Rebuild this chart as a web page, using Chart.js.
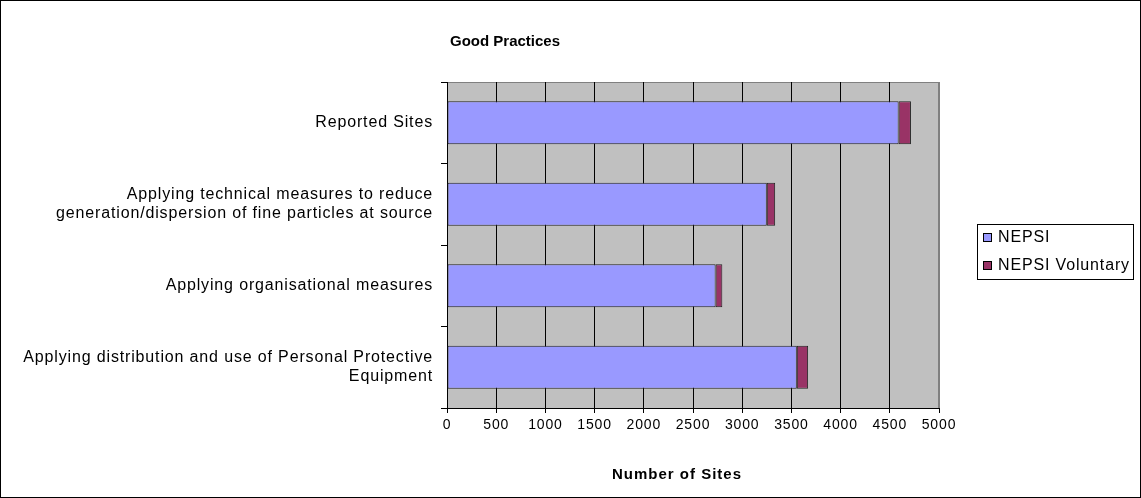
<!DOCTYPE html>
<html>
<head>
<meta charset="utf-8">
<script src="https://cdn.jsdelivr.net/npm/chart.js@4.4.0/dist/chart.umd.min.js"></script>
<style>
  html, body { margin: 0; padding: 0; background: #fff; }
  #wrap { width: 1141px; height: 498px; position: relative; }
</style>
</head>
<body>
<div id="wrap"><canvas id="practicesChart" width="1141" height="498"></canvas></div>
<script>
/* #region  DATA */
const categories = [
  "Reported Sites",
  ["Applying technical measures to reduce", "generation/dispersion of fine particles at source"],
  "Applying organisational measures",
  ["Applying distribution and use of Personal Protective", "Equipment"],
];
const nepsiValues = [4590, 3250, 2730, 3555];
const voluntaryValues = [125, 85, 68, 115];
const xTicks = [0, 500, 1000, 1500, 2000, 2500, 3000, 3500, 4000, 4500, 5000];
/* #endregion */

const FONT = "'Liberation Sans', Arial, sans-serif";
Chart.defaults.font.family = FONT;
Chart.defaults.font.size = 16;
Chart.defaults.color = "#000";

// excel-ish wide text spacing
const spacing = {
  id: "spacing",
  beforeUpdate(chart) { chart.ctx.letterSpacing = "0.85px"; },
  beforeDraw(chart) { chart.ctx.letterSpacing = "0.85px"; },
};

// grey plot background, outer frame, titles and boxed legend
const excelLook = {
  id: "excelLook",
  beforeDraw(chart) {
    const { ctx, chartArea: a } = chart;
    ctx.save();
    ctx.fillStyle = "#fff";
    ctx.fillRect(0, 0, chart.width, chart.height);
    ctx.fillStyle = "#c0c0c0";
    ctx.fillRect(a.left, a.top, a.right - a.left, a.bottom - a.top);
    ctx.strokeStyle = "#808080";
    ctx.lineWidth = 1;
    ctx.strokeRect(a.left + 0.5, a.top + 0.5, a.right - a.left - 1, a.bottom - a.top);
    ctx.restore();
  },
  afterDraw(chart) {
    const ctx = chart.ctx;
    ctx.save();
    ctx.strokeStyle = "#000";
    ctx.lineWidth = 1;
    ctx.strokeRect(0.5, 0.5, chart.width - 1, chart.height - 1);

    ctx.fillStyle = "#000";
    ctx.textAlign = "center";
    ctx.textBaseline = "middle";
    ctx.letterSpacing = "0px";
    ctx.font = "bold 15px " + FONT;
    ctx.fillText("Good Practices", 505, 42);

    ctx.letterSpacing = "1px";
    ctx.font = "bold 15px " + FONT;
    ctx.fillText("Number of Sites", 677, 475);

    // legend
    const lx = 977, ly = 224, lw = 156, lh = 55;
    ctx.fillStyle = "#fff";
    ctx.fillRect(lx, ly, lw, lh);
    ctx.strokeRect(lx + 0.5, ly + 0.5, lw, lh);
    ctx.font = "16px " + FONT;
    ctx.letterSpacing = "0.85px";
    ctx.textAlign = "left";
    chart.data.datasets.forEach((ds, i) => {
      const y = 237 + i * 28;
      ctx.fillStyle = ds.backgroundColor;
      ctx.fillRect(983, y - 4, 9, 9);
      ctx.strokeStyle = "#000";
      ctx.strokeRect(983.5, y - 3.5, 8, 8);
      ctx.fillStyle = "#000";
      ctx.fillText(ds.label, 998, y + 1);
    });
    ctx.restore();
  },
};

const practicesChart = new Chart(document.getElementById("practicesChart"), {
  type: "bar",
  data: {
    labels: categories,
    datasets: [
      {
        label: "NEPSI",
        data: nepsiValues,
        backgroundColor: "#9999ff",
        borderColor: "#222",
        borderWidth: 1,
        borderSkipped: false,
        categoryPercentage: 1,
        barPercentage: 0.53,
      },
      {
        label: "NEPSI Voluntary",
        data: voluntaryValues,
        backgroundColor: "#993366",
        borderColor: "#222",
        borderWidth: 1,
        borderSkipped: false,
        categoryPercentage: 1,
        barPercentage: 0.53,
      },
    ],
  },
  options: {
    indexAxis: "y",
    responsive: false,
    animation: false,
    layout: { padding: { top: 82, right: 202, left: 0, bottom: 0 } },
    plugins: {
      legend: { display: false },
      tooltip: { enabled: false },
    },
    scales: {
      x: {
        stacked: true,
        min: 0,
        max: 5000,
        afterBuildTicks: (scale) => {
          scale.ticks = xTicks.map((v) => ({ value: v }));
        },
        afterFit: (scale) => {
          scale.height = 90;
        },
        grid: {
          color: (c) => (c.index === xTicks.length - 1 ? "#808080" : "#000"),
          tickColor: "#000",
          tickLength: 5,
        },
        border: { color: "#000" },
        ticks: { padding: 4, font: { size: 14 }, callback: (v) => String(v) },
      },
      y: {
        stacked: true,
        afterFit: (scale) => {
          scale.width = 447;
        },
        grid: {
          drawOnChartArea: false,
          tickColor: "#000",
          tickLength: 6,
          offset: true,
        },
        border: { color: "#000" },
        ticks: { padding: 8, font: { size: 16 } },
      },
    },
  },
  plugins: [spacing, excelLook],
});
</script>
</body>
</html>
